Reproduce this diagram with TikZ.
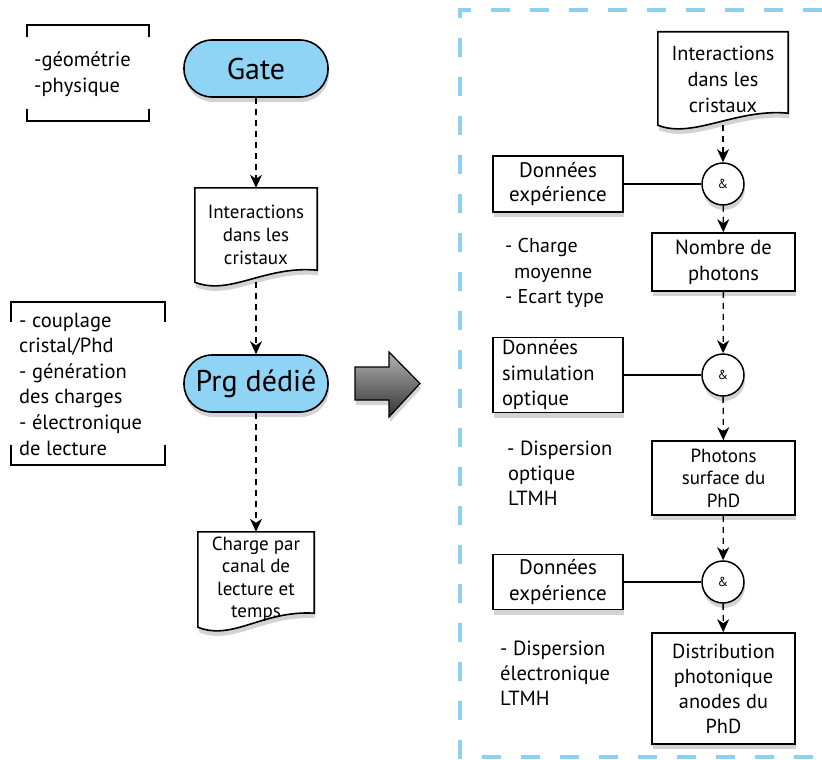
\documentclass[tikz,border=0pt]{standalone}
\usepackage{fontspec}
\setmainfont{PT Sans}
\usetikzlibrary{arrows.meta,shadows,positioning}

\definecolor{pillblue}{RGB}{143,211,245}
\definecolor{frameblue}{RGB}{142,208,240}

\tikzset{
  shad/.style={drop shadow={opacity=0.35, shadow xshift=1pt, shadow yshift=-5pt}},
  pill/.style={draw, line width=1.6pt, fill=pillblue, rounded corners=28pt,
    minimum width=144pt, minimum height=57pt, shad},
  boxed/.style={draw, line width=1.6pt, fill=white, shad, inner sep=2pt, align=center},
  docnode/.style={inner sep=2pt, align=center},
  docline/.style={draw, line width=1.6pt, fill=white, shad},
  andnode/.style={draw, circle, line width=1.5pt, fill=white, minimum size=42pt,
    inner sep=0pt, font=\fontsize{13}{14}\selectfont, shad},
  flow/.style={line width=1.3pt, dash pattern=on 6pt off 5pt,
    -{Stealth[length=13pt, width=12pt, inset=4pt]}},
  link/.style={line width=1.2pt},
  bracket/.style={line width=1.5pt},
  note/.style={align=left, inner sep=0pt}
}

% document outline drawn round a named node
\newcommand\docshape[2]{%
  \path[docline] (#1.north west) -- (#1.north east) -- ([yshift=#2]#1.south east)
    .. controls ([xshift=-52pt,yshift=17pt]#1.south east) and ([xshift=35pt,yshift=-14pt]#1.south west) .. (#1.south west) -- cycle;}

\begin{document}
\begin{tikzpicture}[x=1pt,y=-1pt]
  \useasboundingbox (0,0) rectangle (822,760);

  % frame round the detail
  \draw[frameblue, line width=4pt, dash pattern=on 19pt off 20pt]
    (822,10) -- (460,10) -- (460,757) -- (822,757);

  % left column
  \draw[bracket] (27,37) -- (27,25) -- (149,25) -- (149,37);
  \draw[bracket] (27,109) -- (27,121) -- (149,121) -- (149,109);
  \node[note, anchor=west, font=\fontsize{20.5}{26}\selectfont] (geo) at (34,74) {-géométrie\\-physique};

  \node[pill, font=\fontsize{30}{32}\selectfont] (gate) at (256,68.5) {Gate};

  \node[docnode, minimum width=122pt, minimum height=94pt] (inter1) at (256,235) {};
  \docshape{inter1}{12pt}
  \node[docnode, font=\fontsize{19}{23}\selectfont] at (256,235) {Interactions\\dans les\\cristaux};

  \draw[bracket] (11,322) -- (11,302) -- (165,302) -- (165,322);
  \draw[bracket] (11,445) -- (11,465) -- (165,465) -- (165,445);
  \node[note, anchor=west, font=\fontsize{20.5}{25.6}\selectfont] (couplage) at (19,384)
    {- couplage\\cristal/Phd\\- génération\\des charges\\- électronique\\de lecture};

  \node[pill, font=\fontsize{30}{32}\selectfont] (prg) at (256,383.5) {Prg dédié};

  \node[docnode, minimum width=116pt, minimum height=95pt] (charge) at (256,579.5) {};
  \docshape{charge}{14pt}
  \node[docnode, font=\fontsize{19}{22.3}\selectfont] at (256,579) {Charge par\\canal de\\lecture et\\temps};

  \draw[flow] (gate) -- (inter1);
  \draw[flow] (inter1) -- (prg);
  \draw[flow] (prg) -- (charge);

  % big arrow
  \path[draw, line width=1.2pt, top color=black!30, bottom color=black!80, shad]
    (355,367) -- (389,367) -- (389,352) -- (420,383.5) -- (389,417) -- (389,400) -- (355,400) -- cycle;

  % right column
  \node[docnode, minimum width=130pt, minimum height=93pt] (inter2) at (723,78.5) {};
  \docshape{inter2}{12pt}
  \node[docnode, font=\fontsize{20.3}{26}\selectfont] at (723,79) {Interactions\\dans les\\cristaux};

  \node[andnode] (and1) at (723,184) {\&};
  \node[boxed, minimum width=130pt, minimum height=56pt, font=\fontsize{21}{24.5}\selectfont] (exp1) at (558,184) {Données\\expérience};
  \node[boxed, minimum width=143pt, minimum height=58pt, font=\fontsize{20.5}{26}\selectfont] (nombre) at (723.5,262) {Nombre de\\photons};
  \node[note, anchor=west, font=\fontsize{20}{25.5}\selectfont] (stats) at (505,273) {- Charge\\\hspace*{9pt}moyenne\\- Ecart type};

  \node[andnode] (and2) at (723,375) {\&};
  \node[boxed, minimum width=130pt, minimum height=75pt, text width=112pt, align=left, font=\fontsize{20.5}{25.5}\selectfont] (simu) at (558,375) {Données\\simulation\\optique};
  \node[boxed, minimum width=143pt, minimum height=74pt, font=\fontsize{19}{22.5}\selectfont] (photons) at (723.5,478) {Photons\\surface du\\PhD};
  \node[note, anchor=west, font=\fontsize{20.5}{25}\selectfont] (disp1) at (507,473) {- Dispersion\\\hspace*{1pt}optique\\\hspace*{1pt}LTMH};

  \node[andnode] (and3) at (723,582) {\&};
  \node[boxed, minimum width=130pt, minimum height=55pt, font=\fontsize{21}{26}\selectfont] (exp3) at (558,582) {Données\\expérience};
  \node[boxed, minimum width=143pt, minimum height=111pt, font=\fontsize{20.3}{25}\selectfont] (distrib) at (723.5,688.5) {Distribution\\photonique\\anodes du\\PhD};
  \node[note, anchor=west, font=\fontsize{20.5}{25}\selectfont] (disp2) at (500,673) {- Dispersion\\électronique\\LTMH};

  \draw[flow] (inter2) -- (and1);
  \draw[link] (exp1) -- (and1);
  \draw[flow] (and1) -- (nombre);
  \draw[flow] (nombre) -- (and2);
  \draw[link] (simu) -- (and2);
  \draw[flow] (and2) -- (photons);
  \draw[flow] (photons) -- (and3);
  \draw[link] (exp3) -- (and3);
  \draw[flow] (and3) -- (distrib);
\end{tikzpicture}
\end{document}
